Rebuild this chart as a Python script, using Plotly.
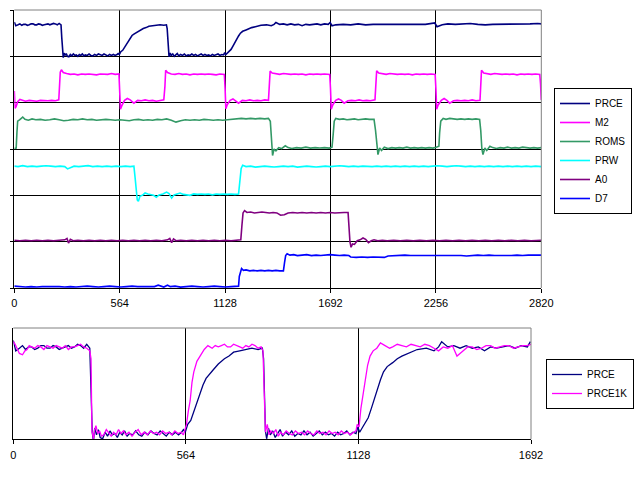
import plotly.graph_objects as go

# ---------------- data ----------------
TOP_TICKS = [0, 564, 1128, 1692, 2256, 2820]
BOTTOM_TICKS = [0, 564, 1128, 1692]

PRCE = [(0,5.74),(8,5.66),(20,5.68),(30,5.70),(40,5.67),(50,5.69),(60,5.69),(70,5.67),(80,5.68),
        (90,5.70),(100,5.70),(110,5.68),(120,5.68),(130,5.70),(140,5.69),(150,5.67),(160,5.68),
        (170,5.69),(180,5.70),(190,5.68),(200,5.69),(210,5.71),(220,5.70),(230,5.68),(240,5.71),
        (250,5.68),(254,5.40),(258,5.04),(262,4.97),(266,5.07),(272,5.02),(278,5.06),(284,5.00),
        (292,4.99),(300,5.04),(308,5.01),(316,5.05),(324,5.02),(332,5.03),(340,5.00),(348,5.04),
        (356,5.02),(364,5.05),(372,5.01),(380,5.03),(390,5.02),(400,5.05),(410,5.02),(420,5.01),
        (430,5.04),(440,5.02),(450,5.05),(460,5.03),(470,5.02),(480,5.05),(490,5.03),(500,5.01),
        (510,5.04),(520,5.02),(530,5.04),(540,5.02),(550,5.04),(556,5.06),(562,5.04),
        (570,5.10),(580,5.13),(590,5.20),(600,5.27),(610,5.34),(620,5.40),(630,5.45),(640,5.48),
        (655,5.52),(670,5.56),(690,5.60),(705,5.62),(720,5.65),(740,5.66),(760,5.67),(780,5.68),
        (800,5.67),(814,5.68),(818,5.60),(821,5.30),(824,5.05),(828,4.99),(834,5.07),(840,5.02),
        (848,5.05),(856,5.00),(864,5.03),(872,5.06),(880,5.01),(890,5.04),(900,5.02),(910,5.05),
        (920,5.01),(930,5.03),(940,5.02),(950,5.05),(960,5.02),(970,5.04),(980,5.01),(990,5.03),
        (1000,5.05),(1010,5.02),(1020,5.04),(1030,5.02),(1040,5.03),(1050,5.01),(1060,5.04),
        (1070,5.02),(1080,5.03),(1090,5.05),(1100,5.02),(1110,5.04),(1120,5.03),(1126,5.08),
        (1132,5.04),(1142,5.08),(1150,5.11),(1160,5.15),(1170,5.22),(1180,5.30),(1190,5.36),
        (1200,5.44),(1210,5.50),(1222,5.54),(1240,5.57),(1255,5.60),(1270,5.62),(1290,5.64),
        (1320,5.67),(1350,5.68),(1375,5.66),(1390,5.69),(1400,5.73),(1420,5.69),(1440,5.70),
        (1460,5.68),(1480,5.70),(1500,5.68),(1520,5.69),(1540,5.66),(1560,5.69),(1580,5.68),
        (1600,5.69),(1620,5.70),(1640,5.68),(1660,5.70),(1680,5.69),(1690,5.73),(1700,5.66),
        (1720,5.68),(1760,5.69),(1800,5.68),(1840,5.70),(1880,5.68),(1920,5.69),(1960,5.69),
        (2000,5.68),(2040,5.68),(2080,5.69),(2120,5.68),(2160,5.69),(2200,5.69),(2250,5.72),
        (2262,5.64),(2290,5.68),(2320,5.70),(2360,5.69),(2400,5.70),(2440,5.71),(2480,5.69),
        (2520,5.68),(2560,5.69),(2600,5.69),(2640,5.70),(2680,5.69),(2720,5.70),(2760,5.70),
        (2800,5.71),(2820,5.70)]

M2 = [(0,4.25),(4,3.88),(10,3.92),(18,4.02),(30,4.07),(45,4.05),(60,4.03),(80,4.05),(100,4.04),
      (120,4.03),(140,4.05),(160,4.04),(180,4.04),(200,4.05),(220,4.04),(238,4.06),
      (242,4.30),(246,4.66),(252,4.71),(262,4.65),(280,4.63),(300,4.61),(320,4.62),(340,4.60),
      (360,4.62),(380,4.61),(400,4.62),(420,4.61),(440,4.60),(460,4.62),(480,4.61),(500,4.61),
      (520,4.63),(540,4.61),(560,4.62),
      (564,4.30),(568,3.86),(576,3.94),(590,4.05),(605,4.09),(620,4.06),(640,3.99),(660,4.05),
      (680,4.04),(700,4.06),(720,4.04),(740,4.05),(760,4.03),(780,4.05),(800,4.06),
      (806,4.35),(810,4.70),(820,4.65),(840,4.62),(860,4.61),(880,4.63),(900,4.61),(920,4.62),
      (940,4.60),(960,4.62),(980,4.61),(1000,4.62),(1020,4.61),(1040,4.62),(1060,4.61),
      (1080,4.60),(1100,4.62),(1124,4.61),
      (1128,4.30),(1132,3.87),(1140,3.96),(1155,4.05),(1170,4.08),(1185,4.04),(1200,3.99),
      (1220,4.05),(1240,4.04),(1260,4.06),(1280,4.04),(1300,4.05),(1320,4.04),(1340,4.06),
      (1360,4.05),
      (1365,4.40),(1369,4.68),(1380,4.64),(1400,4.62),(1420,4.61),(1440,4.63),(1460,4.62),
      (1480,4.61),(1500,4.62),(1520,4.61),(1540,4.62),(1560,4.60),(1580,4.62),(1600,4.61),
      (1620,4.62),(1640,4.61),(1660,4.62),(1688,4.61),
      (1692,4.30),(1696,3.86),(1704,3.95),(1720,4.05),(1735,4.08),(1750,4.05),(1765,3.99),
      (1785,4.04),(1805,4.05),(1825,4.04),(1845,4.06),(1865,4.04),(1885,4.05),(1905,4.04),
      (1930,4.06),
      (1935,4.40),(1939,4.69),(1950,4.64),(1970,4.62),(1990,4.61),(2010,4.63),(2030,4.62),
      (2050,4.61),(2070,4.62),(2090,4.61),(2110,4.62),(2130,4.60),(2150,4.62),(2170,4.61),
      (2190,4.62),(2210,4.61),(2230,4.62),(2252,4.61),
      (2256,4.30),(2260,3.86),(2268,3.95),(2285,4.05),(2300,4.09),(2315,4.05),(2330,3.99),
      (2350,4.04),(2370,4.05),(2390,4.04),(2410,4.05),(2430,4.04),(2450,4.06),(2470,4.04),
      (2492,4.05),
      (2496,4.40),(2500,4.70),(2512,4.64),(2530,4.62),(2550,4.61),(2570,4.63),(2590,4.62),
      (2610,4.61),(2630,4.62),(2650,4.61),(2670,4.62),(2690,4.60),(2710,4.62),(2730,4.61),
      (2750,4.62),(2770,4.61),(2790,4.62),(2812,4.61),(2816,4.40),(2820,4.06)]

ROMS = [(0,3.01),(10,3.02),(14,3.35),(18,3.60),(28,3.63),(45,3.69),(57,3.64),(75,3.62),(95,3.65),
        (115,3.63),(140,3.64),(165,3.62),(190,3.63),(215,3.65),(240,3.63),(265,3.61),(290,3.62),
        (315,3.64),(340,3.63),(365,3.65),(390,3.63),(415,3.64),(440,3.62),(465,3.63),(490,3.64),
        (515,3.63),(540,3.62),(565,3.63),(590,3.62),(615,3.61),(640,3.63),(665,3.64),(690,3.62),
        (715,3.63),(740,3.62),(765,3.64),(790,3.63),(815,3.65),(840,3.62),(865,3.58),(890,3.61),
        (915,3.63),(940,3.62),(965,3.63),(990,3.62),(1015,3.64),(1040,3.63),(1065,3.62),
        (1090,3.63),(1115,3.62),(1140,3.63),(1165,3.64),(1190,3.65),(1215,3.66),(1240,3.65),
        (1265,3.66),(1290,3.65),(1315,3.66),(1340,3.65),(1360,3.66),(1370,3.60),(1376,3.10),
        (1382,2.86),(1390,3.00),(1400,2.96),(1415,3.03),(1430,3.01),(1450,3.07),(1465,3.03),
        (1485,3.01),(1510,3.03),(1535,3.02),(1560,3.04),(1585,3.02),(1610,3.03),(1635,3.02),
        (1660,3.03),(1685,3.02),(1700,3.04),(1706,3.30),(1712,3.60),(1720,3.66),(1740,3.64),
        (1760,3.65),(1780,3.63),(1800,3.64),(1820,3.65),(1840,3.63),(1860,3.64),(1880,3.65),
        (1900,3.64),(1925,3.64),(1933,3.40),(1940,3.00),(1946,2.88),(1955,3.02),(1965,2.97),
        (1980,3.04),(2000,3.01),(2020,3.03),(2040,3.02),(2060,3.03),(2080,3.02),(2100,3.04),
        (2120,3.02),(2140,3.03),(2160,3.02),(2180,3.03),(2200,3.02),(2220,3.03),(2240,3.02),
        (2258,3.04),(2272,3.06),(2276,3.35),(2282,3.60),(2295,3.66),(2310,3.64),(2330,3.66),
        (2350,3.65),(2370,3.64),(2390,3.65),(2410,3.64),(2430,3.65),(2450,3.64),(2470,3.65),
        (2490,3.64),(2496,3.40),(2502,3.00),(2508,2.88),(2518,3.02),(2528,2.97),(2545,3.06),
        (2560,3.03),(2580,3.01),(2600,3.03),(2620,3.02),(2640,3.04),(2660,3.02),(2680,3.03),
        (2700,3.02),(2720,3.04),(2740,3.03),(2760,3.02),(2780,3.03),(2800,3.02),(2820,3.03)]

PRW = [(0,2.63),(20,2.62),(45,2.64),(70,2.62),(95,2.63),(120,2.62),(145,2.63),(170,2.64),(195,2.63),
       (220,2.62),(245,2.63),(270,2.62),(285,2.57),(300,2.60),(320,2.63),(345,2.62),(370,2.63),
       (395,2.64),(420,2.62),(445,2.63),(470,2.62),(495,2.63),(520,2.62),(545,2.63),(570,2.62),
       (595,2.63),(620,2.62),(640,2.63),(646,2.40),(652,2.10),(658,1.90),(664,1.87),(672,1.98),
       (685,2.00),(700,2.05),(715,2.03),(730,2.02),(745,2.00),(760,1.96),(775,2.01),(795,2.03),
       (815,2.07),(828,2.04),(842,1.94),(855,2.01),(870,2.03),(887,2.05),(905,2.02),(920,2.01),
       (940,2.00),(960,2.03),(980,2.02),(1000,2.03),(1020,2.02),(1040,2.03),(1060,2.01),
       (1080,2.03),(1100,2.02),(1120,2.03),(1140,2.02),(1160,2.03),(1180,2.02),(1200,2.03),
       (1206,2.30),(1214,2.58),(1222,2.65),(1240,2.62),(1265,2.63),(1290,2.61),(1315,2.62),
       (1340,2.63),(1365,2.62),(1390,2.61),(1415,2.62),(1440,2.63),(1465,2.62),(1490,2.63),
       (1515,2.61),(1540,2.62),(1565,2.63),(1590,2.62),(1615,2.61),(1640,2.62),(1665,2.63),
       (1690,2.62),(1715,2.63),(1740,2.64),(1765,2.63),(1790,2.62),(1815,2.63),(1840,2.62),
       (1865,2.63),(1890,2.62),(1915,2.62),(1940,2.63),(1965,2.62),(1990,2.63),(2015,2.62),
       (2040,2.63),(2065,2.62),(2090,2.63),(2115,2.62),(2140,2.63),(2165,2.62),(2190,2.63),
       (2215,2.62),(2240,2.63),(2265,2.64),(2290,2.63),(2315,2.62),(2340,2.63),(2365,2.64),
       (2390,2.63),(2415,2.62),(2440,2.63),(2465,2.62),(2490,2.63),(2515,2.62),(2540,2.63),
       (2565,2.62),(2590,2.63),(2615,2.62),(2640,2.63),(2665,2.62),(2690,2.63),(2715,2.62),
       (2740,2.63),(2765,2.62),(2790,2.63),(2820,2.62)]

A0 = [(0,1.03),(30,1.02),(60,1.03),(90,1.02),(120,1.03),(150,1.02),(180,1.03),(210,1.02),(240,1.03),
      (270,1.04),(282,1.07),(290,0.97),(300,1.05),(315,1.02),(340,1.03),(370,1.02),(400,1.03),
      (430,1.02),(460,1.03),(490,1.02),(520,1.03),(550,1.02),(580,1.03),(610,1.02),(640,1.03),
      (670,1.02),(700,1.03),(730,1.02),(760,1.03),(790,1.02),(820,1.04),(832,1.07),(842,0.98),
      (852,1.06),(865,1.02),(890,1.03),(920,1.02),(950,1.03),(980,1.02),(1010,1.03),(1040,1.02),
      (1070,1.03),(1100,1.02),(1130,1.03),(1160,1.02),(1190,1.03),(1212,1.04),(1218,1.35),
      (1224,1.62),(1232,1.67),(1245,1.63),(1265,1.64),(1285,1.62),(1305,1.63),(1325,1.64),
      (1345,1.63),(1365,1.62),(1385,1.63),(1405,1.62),(1425,1.57),(1445,1.58),(1465,1.62),
      (1490,1.63),(1515,1.62),(1540,1.63),(1565,1.62),(1590,1.63),(1615,1.62),(1640,1.63),
      (1665,1.62),(1690,1.63),(1715,1.62),(1740,1.63),(1765,1.63),(1786,1.63),(1790,1.35),
      (1796,1.00),(1802,0.88),(1810,0.95),(1820,0.94),(1835,1.02),(1850,1.04),(1866,1.08),
      (1880,1.05),(1895,0.98),(1910,1.02),(1925,1.04),(1945,1.02),(1970,1.03),(1995,1.02),
      (2030,1.03),(2065,1.02),(2100,1.03),(2135,1.02),(2170,1.03),(2205,1.02),(2240,1.03),
      (2275,1.02),(2310,1.03),(2345,1.02),(2380,1.03),(2415,1.02),(2450,1.03),(2485,1.02),
      (2520,1.03),(2555,1.02),(2590,1.03),(2625,1.02),(2660,1.03),(2695,1.02),(2730,1.03),
      (2765,1.02),(2800,1.03),(2820,1.03)]

D7 = [(0,0.04),(30,0.03),(60,0.02),(90,0.03),(120,0.02),(150,0.03),(180,0.03),(210,0.04),(240,0.03),
      (270,0.02),(300,0.03),(330,0.02),(360,0.03),(390,0.04),(420,0.03),(450,0.02),(480,0.03),
      (510,0.04),(540,0.03),(570,0.02),(600,0.03),(630,0.04),(660,0.03),(690,0.03),(720,0.04),
      (750,0.03),(770,0.06),(785,0.04),(800,0.02),(820,0.06),(835,0.03),(860,0.04),(890,0.02),
      (920,0.03),(950,0.04),(980,0.03),(1010,0.02),(1040,0.03),(1070,0.04),(1100,0.03),
      (1130,0.02),(1160,0.03),(1190,0.03),(1200,0.04),(1204,0.25),(1210,0.36),(1216,0.42),
      (1226,0.38),(1240,0.39),(1260,0.37),(1280,0.38),(1300,0.37),(1320,0.38),(1340,0.37),
      (1360,0.38),(1380,0.37),(1400,0.38),(1420,0.37),(1440,0.37),(1446,0.55),(1452,0.70),
      (1460,0.74),(1475,0.71),(1495,0.72),(1515,0.70),(1540,0.71),(1565,0.72),(1590,0.70),
      (1615,0.71),(1640,0.70),(1665,0.71),(1690,0.72),(1715,0.71),(1740,0.70),(1765,0.71),
      (1790,0.70),(1800,0.67),(1830,0.66),(1860,0.67),(1890,0.66),(1920,0.67),(1950,0.66),
      (1980,0.66),(2000,0.69),(2030,0.70),(2060,0.70),(2090,0.71),(2120,0.70),(2150,0.70),
      (2180,0.71),(2210,0.70),(2240,0.71),(2270,0.70),(2300,0.71),(2330,0.70),(2360,0.71),
      (2390,0.70),(2420,0.69),(2450,0.70),(2480,0.71),(2510,0.70),(2540,0.71),(2570,0.70),
      (2600,0.70),(2630,0.69),(2660,0.70),(2690,0.71),(2720,0.70),(2750,0.71),(2780,0.71),
      (2820,0.71)]

PRCE1K = [(0,5.73),(6,5.71),(12,5.68),(20,5.64),(30,5.63),(38,5.66),(45,5.67),(52,5.70),(60,5.69),
          (70,5.68),(80,5.70),(90,5.69),(100,5.67),(110,5.70),(120,5.69),(130,5.68),(140,5.70),
          (150,5.69),(160,5.68),(170,5.70),(180,5.67),(190,5.69),(200,5.69),(210,5.70),(220,5.71),
          (230,5.69),(240,5.68),(250,5.66),(254,5.60),(257,5.05),(262,4.99),(266,5.06),(270,5.09),
          (276,5.03),(282,5.05),(288,5.01),(296,5.02),(304,5.06),(312,5.03),(320,5.01),(328,5.04),
          (336,5.02),(344,5.06),(352,5.03),(360,5.05),(368,5.02),(378,5.04),(388,5.01),(398,5.04),
          (408,5.06),(418,5.02),(428,5.04),(438,5.02),(448,5.05),(458,5.03),(468,5.04),(478,5.02),
          (488,5.05),(498,5.03),(508,5.04),(518,5.02),(528,5.05),(538,5.03),(548,5.04),(556,5.02),
          (562,5.06),(566,5.10),(572,5.20),(578,5.28),(584,5.42),(590,5.50),(600,5.58),(612,5.63),
          (624,5.67),(636,5.70),(650,5.68),(660,5.70),(670,5.69),(680,5.70),(690,5.71),(700,5.69),
          (710,5.69),(720,5.71),(730,5.70),(740,5.69),(750,5.68),(760,5.70),(770,5.69),(780,5.71),
          (790,5.70),(800,5.68),(810,5.69),(816,5.66),(820,5.30),(824,5.04),(830,5.10),(836,5.02),
          (842,5.05),(850,5.03),(858,5.06),(866,5.01),(874,5.04),(882,5.02),(892,5.05),(902,5.03),
          (912,5.02),(922,5.05),(932,5.03),(942,5.04),(952,5.02),(962,5.05),(972,5.03),(982,5.02),
          (992,5.05),(1002,5.03),(1012,5.04),(1022,5.02),(1032,5.05),(1042,5.03),(1052,5.04),
          (1062,5.02),(1072,5.05),(1082,5.03),(1092,5.04),(1102,5.02),(1112,5.04),(1120,5.05),
          (1124,5.10),(1130,5.08),(1136,5.22),(1142,5.32),(1150,5.45),(1158,5.55),(1166,5.62),
          (1176,5.66),(1188,5.68),(1200,5.72),(1215,5.70),(1230,5.68),(1240,5.69),(1255,5.71),
          (1270,5.70),(1285,5.69),(1300,5.71),(1315,5.70),(1330,5.69),(1345,5.71),(1360,5.70),
          (1375,5.68),(1390,5.66),(1405,5.69),(1420,5.68),(1435,5.70),(1450,5.62),(1460,5.64),
          (1470,5.66),(1485,5.69),(1500,5.69),(1515,5.67),(1530,5.68),(1545,5.70),(1560,5.70),
          (1575,5.68),(1590,5.69),(1605,5.70),(1620,5.70),(1635,5.68),(1650,5.69),(1665,5.70),
          (1680,5.70),(1692,5.71)]

TOP_SERIES = [("PRCE", PRCE, "#000080"), ("M2", M2, "#FF00FF"), ("ROMS", ROMS, "#339966"),
              ("PRW", PRW, "#00FFFF"), ("A0", A0, "#800080"), ("D7", D7, "#0000FF")]
BOTTOM_SERIES = [("PRCE", PRCE, "#000080"), ("PRCE1K", PRCE1K, "#FF00FF")]

FONT = "Liberation Sans, Arial, sans-serif"

fig = go.Figure()
for name, data, color in TOP_SERIES:
    xs = [p[0] for p in data]
    ys = [p[1] for p in data]
    fig.add_trace(go.Scatter(x=xs, y=ys, mode="lines", name=name,
                             line=dict(color=color, width=1.6),
                             xaxis="x", yaxis="y", legend="legend"))
for name, data, color in BOTTOM_SERIES:
    xs = [p[0] for p in data if p[0] <= 1692]
    ys = [p[1] for p in data if p[0] <= 1692]
    fig.add_trace(go.Scatter(x=xs, y=ys, mode="lines", name=name,
                             line=dict(color=color, width=1.3),
                             xaxis="x2", yaxis="y2", legend="legend2"))

W, H = 640, 480
top_x = [14.3 / W, 541.3 / W]
top_y = [1 - 288 / H, 1 - 10 / H]
bot_x = [13.3 / W, 531 / W]
bot_y = [1 - 439.3 / H, 1 - 328 / H]

common_x = dict(showline=True, linecolor="black", linewidth=1, ticks="outside", ticklen=4,
                tickcolor="black", showgrid=True, gridcolor="black", gridwidth=1,
                zeroline=False, tickfont=dict(family=FONT, size=11, color="black"),
                ticklabelstandoff=1, automargin=False)

fig.update_layout(
    width=W, height=H, margin=dict(l=0, r=0, t=0, b=0, autoexpand=False),
    paper_bgcolor="white", plot_bgcolor="white",
    font=dict(family=FONT, size=10, color="black"),
    xaxis=dict(domain=top_x, range=[0, 2820], tickvals=TOP_TICKS,
               ticktext=[str(t) for t in TOP_TICKS], anchor="y", **common_x),
    yaxis=dict(domain=top_y, range=[0, 6], tickvals=[0, 1, 2, 3, 4, 5, 6], showticklabels=False,
               ticks="outside", ticklen=3, tickcolor="black", showgrid=True, gridcolor="black",
               gridwidth=1, showline=True, linecolor="black", zeroline=False, anchor="x",
               automargin=False),
    xaxis2=dict(domain=bot_x, range=[0, 1692], tickvals=BOTTOM_TICKS,
                ticktext=[str(t) for t in BOTTOM_TICKS], anchor="y2", **common_x),
    yaxis2=dict(domain=bot_y, range=[4.986, 5.834], showticklabels=False, ticks="",
                showgrid=False, showline=True, linecolor="black", zeroline=False, anchor="x2",
                automargin=False),
    legend=dict(x=632 / W, y=1 - 88 / H, xanchor="right", yanchor="top",
                bordercolor="black", borderwidth=1, bgcolor="white",
                font=dict(family=FONT, size=10, color="black"), itemwidth=30, tracegroupgap=0),
    legend2=dict(x=634 / W, y=1 - 359 / H, xanchor="right", yanchor="top",
                 bordercolor="black", borderwidth=1, bgcolor="white",
                 font=dict(family=FONT, size=10, color="black"), itemwidth=30, tracegroupgap=0),
    showlegend=True,
)

# grey top and right plot-area borders
for xa, ya in (("x", "y"), ("x2", "y2")):
    fig.add_shape(type="line", xref=f"{xa} domain", yref=f"{ya} domain", x0=0, x1=1, y0=1, y1=1,
                  line=dict(color="#808080", width=1), layer="above")
    fig.add_shape(type="line", xref=f"{xa} domain", yref=f"{ya} domain", x0=1, x1=1, y0=0, y1=1,
                  line=dict(color="#808080", width=1), layer="above")

fig.write_html("out.html")
